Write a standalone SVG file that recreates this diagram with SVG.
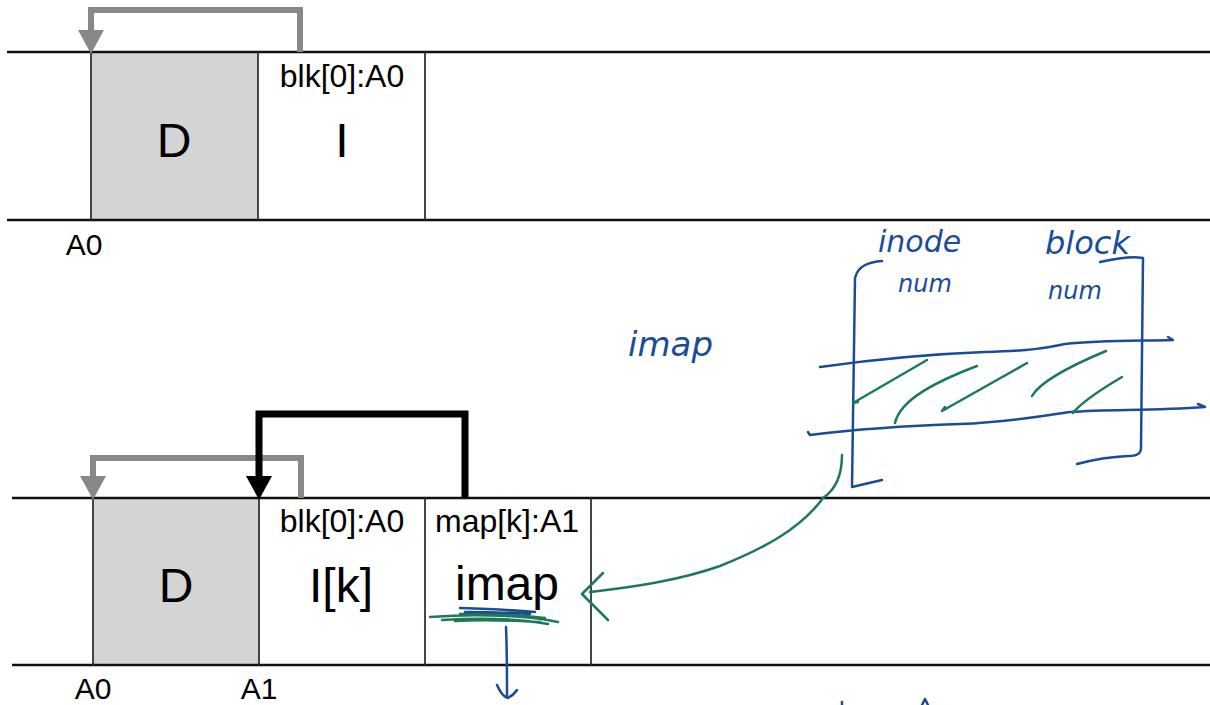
<svg xmlns="http://www.w3.org/2000/svg" width="1210" height="705" viewBox="0 0 1210 705">
<style>
.hl{stroke:#111;stroke-width:2.5;fill:none}
.vl{stroke:#333;stroke-width:1.8;fill:none}
.sm{font-family:"Liberation Sans",Arial,sans-serif;font-size:32px;fill:#000;text-anchor:middle}
.lb{font-family:"Liberation Sans",Arial,sans-serif;font-size:30px;fill:#000;text-anchor:middle}
.big{font-family:"Liberation Sans",Arial,sans-serif;font-size:48px;fill:#000;text-anchor:middle}
.hw{font-family:"DejaVu Sans","Liberation Sans",sans-serif;font-style:italic;fill:#1a4c98}
.bl{stroke:#1a4c98;stroke-width:2.5;fill:none;stroke-linecap:round;stroke-linejoin:round}
.gr{stroke:#1d7a56;stroke-width:2.5;fill:none;stroke-linecap:round;stroke-linejoin:round}
</style>
<defs>
<marker id="ag" markerUnits="userSpaceOnUse" markerWidth="26" markerHeight="24" refX="12" refY="0" orient="0" viewBox="0 0 24 22"><path d="M0,0 L24,0 L12,22 Z" fill="#888"/></marker>
<marker id="ab" markerUnits="userSpaceOnUse" markerWidth="26" markerHeight="24" refX="12" refY="0" orient="0" viewBox="0 0 24 22"><path d="M0,0 L24,0 L12,22 Z" fill="#000"/></marker>
</defs>
<rect width="1210" height="705" fill="#fff"/>
<g id="top-row">
<rect x="91" y="52" width="167" height="168" fill="#d4d4d4"/>
<line class="hl" x1="7" y1="52" x2="1210" y2="52"/>
<line class="hl" x1="7" y1="220" x2="1210" y2="220"/>
<line class="vl" x1="91" y1="52" x2="91" y2="220"/>
<line class="vl" x1="258" y1="52" x2="258" y2="220"/>
<line class="vl" x1="425" y1="52" x2="425" y2="220"/>
</g>
<g id="top-D"><text class="big" x="174" y="157">D</text></g>
<g id="top-I"><text class="sm" x="342" y="87">blk[0]:A0</text><text class="big" x="342" y="157">I</text></g>
<g id="top-A0"><text class="lb" x="84" y="255">A0</text></g>
<g id="bottom-row">
<rect x="93" y="498" width="166" height="167" fill="#d4d4d4"/>
<line class="hl" x1="12" y1="498" x2="1210" y2="498"/>
<line class="hl" x1="12" y1="665" x2="1210" y2="665"/>
<line class="vl" x1="93" y1="498" x2="93" y2="665"/>
<line class="vl" x1="259" y1="498" x2="259" y2="665"/>
<line class="vl" x1="425" y1="498" x2="425" y2="665"/>
<line class="vl" x1="591" y1="498" x2="591" y2="665"/>
</g>
<g id="bottom-D"><text class="big" x="176" y="602">D</text></g>
<g id="bottom-Ik"><text class="sm" x="342" y="532">blk[0]:A0</text><text class="big" x="341" y="602">I[k]</text></g>
<g id="bottom-imap"><text class="sm" x="507" y="532">map[k]:A1</text><text class="big" x="507" y="600">imap</text></g>
<g id="bottom-labels"><text class="lb" x="93" y="699">A0</text><text class="lb" x="259" y="699">A1</text></g>
<g id="connectors">
<path d="M300,52 V10 H91 V30" stroke="#888" stroke-width="6" fill="none" marker-end="url(#ag)"/>
<path d="M301,498 V458 H93 V476" stroke="#888" stroke-width="6" fill="none" marker-end="url(#ag)"/>
<path d="M465,498 V414 H259 V476" stroke="#000" stroke-width="7" fill="none" marker-end="url(#ab)"/>
</g>
<g id="annotations">
<text class="hw" x="628" y="356" font-size="34">imap</text>
<text class="hw" x="878" y="252" font-size="30">inode</text>
<text class="hw" x="898" y="292" font-size="24">num</text>
<text class="hw" x="1045" y="254" font-size="32">block</text>
<text class="hw" x="1048" y="299" font-size="24">num</text>
<path class="bl" d="M882,261 C870,262 858,265 855,278 L852,487 L882,480"/>
<path class="bl" d="M1100,262 C1118,258 1132,256 1143,258 L1141,448 C1141,455 1135,456 1128,456 C1105,457 1092,460 1077,464"/>
<path class="bl" d="M820,367 C870,360 930,354 985,352 C1030,351 1045,348 1065,344 C1100,340 1140,341 1173,340 L1168,337"/>
<path class="bl" d="M810,435 L808,432 M810,435 C850,430 900,426 960,424 C1010,422 1040,416 1070,412 C1110,409 1150,411 1205,407 L1198,404"/>
<path class="gr" d="M927,360 L853,403 L858,402"/>
<path class="gr" d="M977,366 C935,382 900,400 895,423"/>
<path class="gr" d="M1027,363 L942,411 L945,407"/>
<path class="gr" d="M1106,351 C1070,366 1040,382 1032,396"/>
<path class="gr" d="M1122,377 C1100,390 1080,404 1073,413"/>
<path class="gr" d="M842,455 C842,475 835,490 823,498 C800,530 760,550 720,566 C680,580 640,586 590,592"/>
<path class="gr" d="M603,573 L582,594 L608,620"/>
<path class="gr" d="M430,617 C480,613 530,616 558,622 M442,620 C490,617 520,619 548,624 M455,621 C490,619 520,621 540,622 M460,614 C490,612 520,615 545,618"/>
<path class="bl" d="M460,608 C490,609 515,610 535,612 M465,612 C495,612 515,613 530,614"/>
<path class="bl" d="M506,627 C507,650 507,675 507,697 M497,685 C500,692 503,697 508,698 C512,696 515,693 517,690"/>
<path class="bl" d="M842,702 L842,705"/>
<path class="bl" d="M925,699 L922,705 M925,699 L928,705"/>
</g>
</svg>
